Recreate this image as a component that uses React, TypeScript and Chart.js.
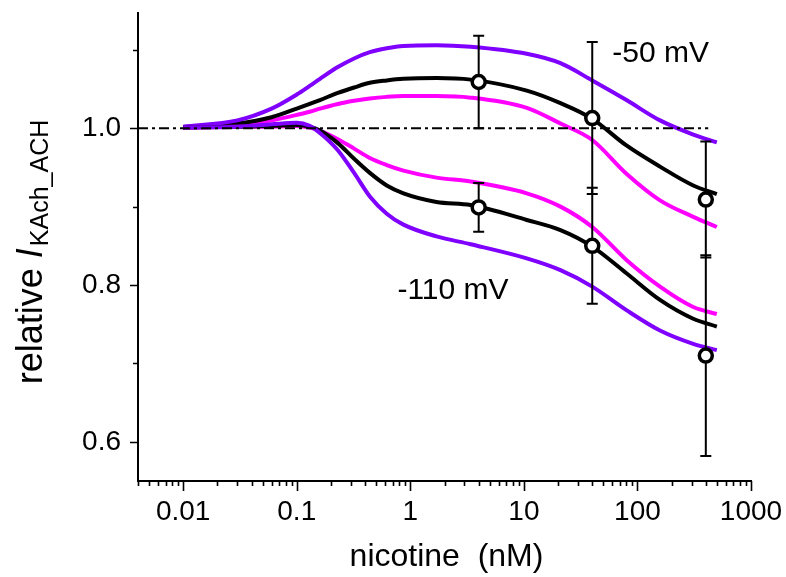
import React, { useEffect, useRef } from 'react';
import { Chart, registerables } from 'chart.js';

Chart.register(...registerables);

// ---- data ----
const concentrations = [0.01, 0.03, 0.06, 0.1, 0.13, 0.16, 0.23, 0.32, 0.44, 0.62, 0.87, 1.7, 3.4, 10.6, 21, 40, 80, 158, 310, 500];
const fit50Purple = [1.002, 1.010, 1.025, 1.043, 1.054, 1.063, 1.078, 1.089, 1.097, 1.102, 1.105, 1.106, 1.104, 1.095, 1.083, 1.061, 1.036, 1.010, 0.992, 0.982];
const fit50Black = [1.001, 1.006, 1.014, 1.025, 1.031, 1.036, 1.045, 1.052, 1.058, 1.061, 1.063, 1.064, 1.062, 1.048, 1.032, 1.012, 0.978, 0.951, 0.927, 0.916];
const fit50Magenta = [1.001, 1.003, 1.010, 1.017, 1.021, 1.025, 1.031, 1.035, 1.038, 1.040, 1.041, 1.041, 1.039, 1.026, 1.006, 0.985, 0.942, 0.908, 0.887, 0.874];
const fit110Purple = [1.001, 1.002, 1.005, 1.007, 1.003, 0.994, 0.972, 0.943, 0.913, 0.891, 0.877, 0.862, 0.852, 0.834, 0.819, 0.798, 0.768, 0.742, 0.725, 0.717];
const fit110Black = [1.001, 1.002, 1.003, 1.004, 1.002, 0.997, 0.981, 0.961, 0.943, 0.927, 0.917, 0.906, 0.902, 0.883, 0.870, 0.849, 0.815, 0.781, 0.757, 0.747];
const fit110Magenta = [1.001, 1.002, 1.002, 1.003, 1.001, 0.997, 0.986, 0.974, 0.962, 0.953, 0.946, 0.937, 0.932, 0.917, 0.900, 0.874, 0.832, 0.798, 0.772, 0.763];

const measuredX = [4, 40, 400];
const mean50 = [1.059, 1.013, 0.909];
const err50 = [0.059, 0.097, 0.074];
const mean110 = [0.899, 0.850, 0.710];
const err110 = [0.031, 0.074, 0.128];

const refLineX = [0.004, 420];
const refLineY = [1, 1];

const xTickValues = [0.01, 0.1, 1, 10, 100, 1000];
const yTickValues = [0.6, 0.7, 0.8, 0.9, 1.0, 1.1];
const yLabelledTicks = [0.6, 0.8, 1.0];

const annotations = [
  { text: '-50 mV', x: 60, y: 1.095 },
  { text: '-110 mV', x: 0.77, y: 0.7925 },
];

const FONT = '"Liberation Sans", Arial, Helvetica, sans-serif';
const PURPLE = '#7f00ff';
const MAGENTA = '#ff00ff';

const toPoints = (xs: number[], ys: number[]) => xs.map((x, i) => ({ x, y: ys[i] }));

const curve = (data: number[], color: string) => ({
  type: 'line' as const,
  data: toPoints(concentrations, data),
  borderColor: color,
  borderWidth: 4,
  pointRadius: 0,
  cubicInterpolationMode: 'monotone' as const,
  fill: false,
  order: 2,
});

const errorBarPlugin = {
  id: 'errorBars',
  beforeDatasetDraw(chart: any, args: any) {
    const ds = chart.data.datasets[args.index];
    if (!ds.errors) return;
    const { ctx, scales } = chart;
    ctx.save();
    ctx.strokeStyle = '#000';
    ctx.lineWidth = 2;
    ds.data.forEach((p: any, i: number) => {
      const e = ds.errors[i];
      const px = scales.x.getPixelForValue(p.x);
      const top = scales.y.getPixelForValue(p.y + e);
      const bot = scales.y.getPixelForValue(p.y - e);
      ctx.beginPath();
      ctx.moveTo(px, top);
      ctx.lineTo(px, bot);
      ctx.moveTo(px - 5.5, top);
      ctx.lineTo(px + 5.5, top);
      ctx.moveTo(px - 5.5, bot);
      ctx.lineTo(px + 5.5, bot);
      ctx.stroke();
    });
    ctx.restore();
  },
};

const decorPlugin = {
  id: 'decor',
  afterDraw(chart: any) {
    const { ctx, scales, chartArea } = chart;
    const xs = scales.x;
    const ys = scales.y;
    ctx.save();
    ctx.strokeStyle = '#000';
    ctx.lineWidth = 1.6;
    // x ticks
    ctx.beginPath();
    for (let e = -3; e <= 3; e++) {
      for (let m = 1; m <= 9; m++) {
        const v = m * Math.pow(10, e);
        if (v < xs.min * 0.999 || v > xs.max * 1.001) continue;
        const px = Math.round(xs.getPixelForValue(v)) + 0.5;
        const len = m === 1 ? 10 : 5;
        ctx.moveTo(px, chartArea.bottom);
        ctx.lineTo(px, chartArea.bottom + len);
      }
    }
    // y ticks
    yTickValues.forEach((v) => {
      const py = Math.round(ys.getPixelForValue(v)) + 0.5;
      const major = yLabelledTicks.some((t) => Math.abs(t - v) < 1e-6);
      ctx.moveTo(chartArea.left, py);
      ctx.lineTo(chartArea.left - (major ? 8 : 5), py);
    });
    ctx.stroke();

    ctx.fillStyle = '#000';
    // annotations
    ctx.font = `30px ${FONT}`;
    ctx.textBaseline = 'middle';
    ctx.textAlign = 'left';
    annotations.forEach((a) => {
      ctx.fillText(a.text, xs.getPixelForValue(a.x), ys.getPixelForValue(a.y));
    });

    // x title
    ctx.font = `32px ${FONT}`;
    ctx.textAlign = 'center';
    ctx.textBaseline = 'middle';
    ctx.fillText('nicotine  (nM)', (chartArea.left + chartArea.right) / 2 + 2, 557);

    // y title (rotated, with italic I and subscript)
    const mainFont = `36px ${FONT}`;
    const italicFont = `italic 36px ${FONT}`;
    const subFont = `25px ${FONT}`;
    ctx.font = mainFont;
    const w1 = ctx.measureText('relative ').width;
    ctx.font = italicFont;
    const w2 = ctx.measureText('I').width + 2;
    ctx.font = subFont;
    const w3 = ctx.measureText('KAch_ACH').width;
    const total = w1 + w2 + w3;
    ctx.translate(42, 252);
    ctx.rotate(-Math.PI / 2);
    ctx.textAlign = 'left';
    ctx.textBaseline = 'alphabetic';
    let cx = -total / 2;
    ctx.font = mainFont;
    ctx.fillText('relative ', cx, 0);
    cx += w1;
    ctx.font = italicFont;
    ctx.fillText('I', cx, 0);
    cx += w2;
    ctx.font = subFont;
    ctx.fillText('KAch_ACH', cx, 6);
    ctx.restore();
  },
};

export default function App() {
  const canvasRef = useRef<HTMLCanvasElement | null>(null);

  useEffect(() => {
    document.body.style.margin = '0';
    const canvas = canvasRef.current;
    if (!canvas) return;
    const pointStyle = {
      showLine: false,
      pointRadius: 6.5,
      pointBorderWidth: 3.5,
      pointBorderColor: '#000',
      pointBackgroundColor: '#fff',
      order: 0,
    };
    const chart = new Chart(canvas, {
      type: 'line',
      data: {
        datasets: [
          { type: 'line', data: toPoints(measuredX, mean50), errors: err50, ...pointStyle } as any,
          { type: 'line', data: toPoints(measuredX, mean110), errors: err110, ...pointStyle } as any,
          {
            type: 'line',
            data: toPoints(refLineX, refLineY),
            borderColor: '#000',
            borderWidth: 2,
            borderDash: [10, 4, 3, 4],
            pointRadius: 0,
            order: 1,
          },
          curve(fit110Purple, PURPLE),
          curve(fit110Black, '#000'),
          curve(fit110Magenta, MAGENTA),
          curve(fit50Purple, PURPLE),
          curve(fit50Black, '#000'),
          curve(fit50Magenta, MAGENTA),
        ],
      },
      options: {
        responsive: false,
        animation: false,
        devicePixelRatio: 1,
        layout: { padding: { top: 13, right: 35, left: 0, bottom: 0 } },
        plugins: {
          legend: { display: false },
          tooltip: { enabled: false },
          title: { display: false },
        },
        scales: {
          x: {
            type: 'logarithmic',
            min: 0.004,
            max: 1000,
            grid: { display: false, drawTicks: false },
            border: { display: true, color: '#000', width: 2 },
            afterBuildTicks: (scale: any) => {
              scale.ticks = xTickValues.map((v) => ({ value: v }));
            },
            afterFit: (scale: any) => {
              scale.height = 96;
              scale.paddingLeft = 0;
              scale.paddingRight = 0;
            },
            ticks: {
              autoSkip: false,
              maxRotation: 0,
              padding: 14,
              color: '#000',
              font: { family: FONT, size: 28 },
              callback: (v: any) => String(v),
            },
          },
          y: {
            type: 'linear',
            min: 0.55,
            max: 1.147,
            grid: { display: false, drawTicks: false },
            border: { display: true, color: '#000', width: 2 },
            afterBuildTicks: (scale: any) => {
              scale.ticks = yTickValues.map((v) => ({ value: v }));
            },
            afterFit: (scale: any) => {
              scale.width = 138;
              scale.paddingTop = 0;
              scale.paddingBottom = 0;
            },
            ticks: {
              autoSkip: false,
              padding: 17,
              color: '#000',
              font: { family: FONT, size: 28 },
              callback: (v: any) =>
                yLabelledTicks.some((t) => Math.abs(t - Number(v)) < 1e-6) ? Number(v).toFixed(1) : '',
            },
          },
        },
      } as any,
      plugins: [errorBarPlugin, decorPlugin],
    });
    return () => chart.destroy();
  }, []);

  return (
    <div style={{ width: 786, height: 577 }}>
      <canvas ref={canvasRef} width={786} height={577} style={{ display: 'block', width: 786, height: 577 }} />
    </div>
  );
}
